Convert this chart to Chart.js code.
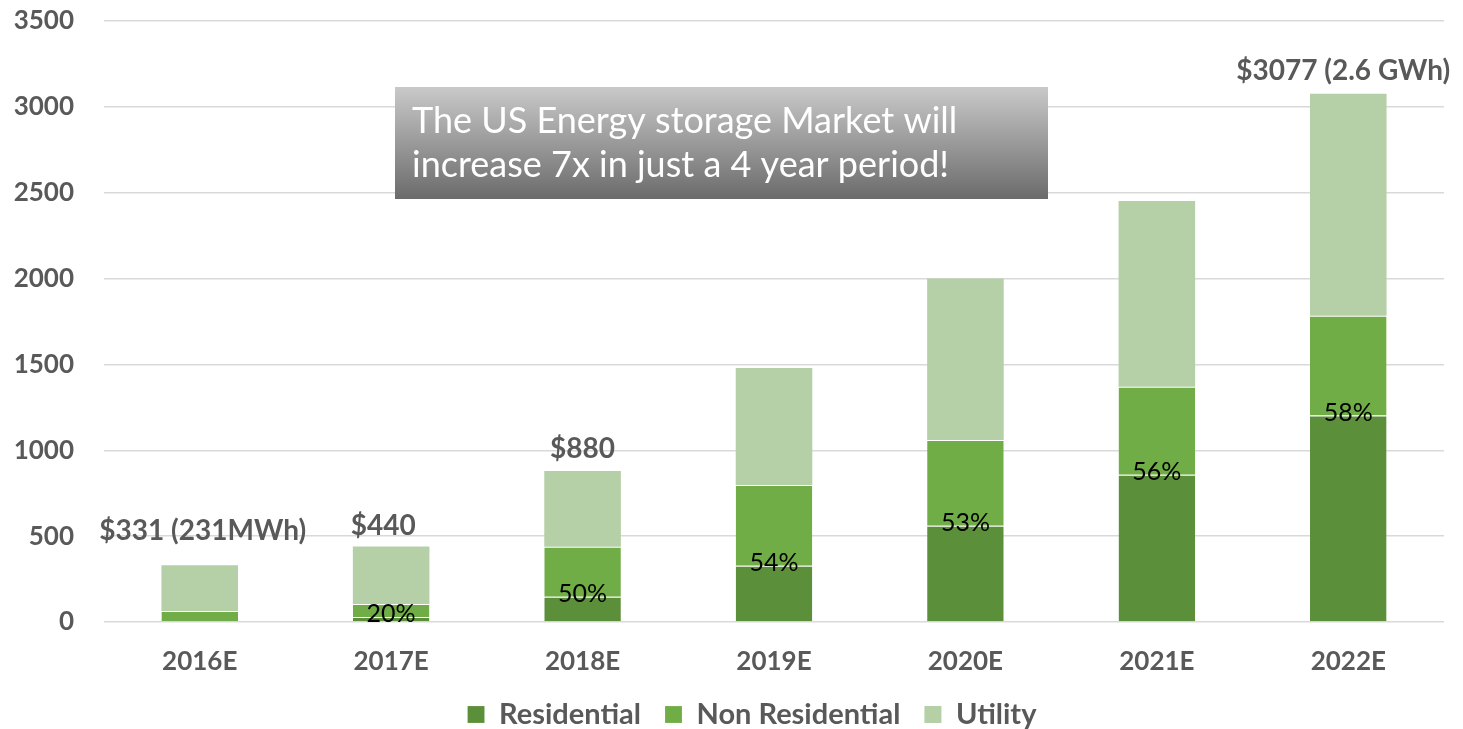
<!DOCTYPE html>
<html>
<head>
<meta charset="utf-8">
<script src="https://cdn.jsdelivr.net/npm/chart.js@4.4.1/dist/chart.umd.min.js"></script>
<style>
  html, body { margin: 0; padding: 0; background: #fff; }
  #wrap { width: 1463px; height: 729px; position: relative; }
</style>
</head>
<body>
<div id="wrap"><canvas id="storageChart"></canvas></div>
<script>
const years = ['2016E', '2017E', '2018E', '2019E', '2020E', '2021E', '2022E'];
const residential = [5, 29, 147, 328, 561, 858, 1202];
const nonResidential = [59, 76, 291, 470, 499, 512, 582];
const utility = [267, 335, 442, 681, 940, 1082, 1293];
const totalLabels = ['$331 (231MWh)', '$440', '$880', '', '', '', '$3077 (2.6 GWh)'];
const shareLabels = ['', '20%', '50%', '54%', '53%', '56%', '58%'];
const yMax = 3500;
const yStep = 500;

const textGrey = '#595959';

// draws the % labels, the totals above the bars and the grey call-out box
const labelPlugin = {
    id: 'barLabels',
    afterLayout(chart) {
        // legend sits a bit right of centre in the original
        chart.legend.left += 30;
        chart.legend.right += 30;
    },
    afterDatasetsDraw(chart, args, opts) {
        const ctx = chart.ctx;
        const resMeta = chart.getDatasetMeta(0);
        const topMeta = chart.getDatasetMeta(2);
        ctx.save();
        ctx.textAlign = 'center';
        ctx.textBaseline = 'middle';

        ctx.fillStyle = '#000';
        ctx.font = '25px Lato';
        resMeta.data.forEach((bar, i) => {
            if (shareLabels[i]) ctx.fillText(shareLabels[i], bar.x, bar.y - 3);
        });

        ctx.fillStyle = textGrey;
        ctx.font = 'bold 28px Lato';
        topMeta.data.forEach((bar, i) => {
            if (totalLabels[i]) ctx.fillText(totalLabels[i], bar.x + opts.shift[i], bar.y - opts.lift[i]);
        });
        ctx.restore();
    },
    afterDraw(chart) {
        const ctx = chart.ctx;
        const x = 395, y = 87, w = 653, h = 112;
        ctx.save();
        const g = ctx.createLinearGradient(0, y, 0, y + h);
        g.addColorStop(0, '#c9c9c9');
        g.addColorStop(1, '#6b6b6b');
        ctx.fillStyle = g;
        ctx.fillRect(x, y, w, h);
        ctx.fillStyle = '#fff';
        ctx.font = '36px Lato';
        ctx.textAlign = 'left';
        ctx.textBaseline = 'middle';
        ctx.fillText('The US Energy storage Market will', x + 17, y + 34);
        ctx.fillText('increase 7x in just a 4 year period!', x + 17, y + 78);
        ctx.restore();
    }
};

const ctx = document.getElementById('storageChart').getContext('2d');
const storageChart = new Chart(ctx, {
    type: 'bar',
    data: {
        labels: years,
        datasets: [
            {
                label: 'Residential',
                data: residential,
                backgroundColor: '#5b8f39',
                borderColor: 'rgba(255,255,255,0.6)',
                borderWidth: { top: 1 },
                borderSkipped: false,
            },
            {
                label: 'Non Residential',
                data: nonResidential,
                backgroundColor: '#70ad47',
                borderColor: 'rgba(255,255,255,0.6)',
                borderWidth: { top: 1 },
                borderSkipped: false,
            },
            {
                label: 'Utility',
                data: utility,
                backgroundColor: '#b5cfa7',
                borderWidth: 0,
            },
        ],
    },
    options: {
        responsive: true,
        maintainAspectRatio: false,
        animation: false,
        datasets: {
            bar: { categoryPercentage: 1, barPercentage: 0.4 },
        },
        layout: {
            padding: { left: 0, right: 19, top: 21, bottom: 0 },
        },
        plugins: {
            legend: {
                position: 'bottom',
                maxHeight: 53,
                labels: {
                    boxWidth: 17,
                    boxHeight: 17,
                    padding: 24,
                    color: textGrey,
                    font: { family: 'Lato', size: 29, weight: 'bold' },
                },
            },
            tooltip: { enabled: false },
            barLabels: {
                lift: [34, 20, 22, 0, 0, 0, 23],
                shift: [3, -8, 0, 0, 0, 0, -5],
            },
        },
        scales: {
            x: {
                stacked: true,
                grid: { display: false, drawTicks: false },
                border: { display: false },
                ticks: {
                    color: textGrey,
                    padding: 24,
                    font: { family: 'Lato', size: 26, weight: 'bold' },
                },
                afterFit(scale) {
                    scale.height = 54;
                },
            },
            y: {
                stacked: true,
                min: 0,
                max: yMax,
                grid: {
                    color: '#d9d9d9',
                    lineWidth: 1.5,
                    drawTicks: false,
                },
                border: { display: false },
                ticks: {
                    stepSize: yStep,
                    color: textGrey,
                    padding: 30,
                    font: { family: 'Lato', size: 26, weight: 'bold' },
                    callback: (v) => String(v),
                },
                afterFit(scale) {
                    scale.width = 104;
                    scale.paddingTop = 0;
                    scale.paddingBottom = 0;
                },
            },
        },
    },
    plugins: [labelPlugin],
});
</script>
</body>
</html>
